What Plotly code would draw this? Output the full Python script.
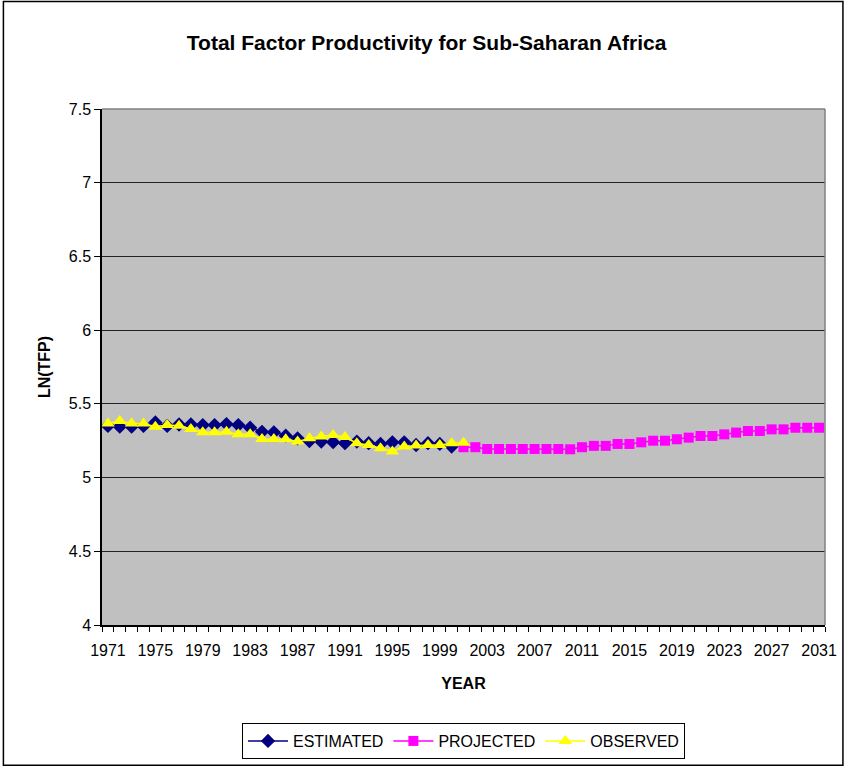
import plotly.graph_objects as go

# --- données ---
years_estimated = list(range(1971, 2001))
tfp_estimated = [5.350, 5.345, 5.345, 5.350, 5.374, 5.350, 5.360, 5.360, 5.356, 5.356,
                 5.363, 5.356, 5.338, 5.310, 5.307, 5.284, 5.266, 5.248, 5.244, 5.240,
                 5.233, 5.244, 5.233, 5.228, 5.239, 5.239, 5.221, 5.233, 5.228, 5.210]

years_projected = list(range(2001, 2032))
tfp_projected = [5.206, 5.206, 5.194, 5.194, 5.194, 5.194, 5.194, 5.194, 5.194, 5.192,
                 5.206, 5.215, 5.215, 5.228, 5.228, 5.239, 5.250, 5.250, 5.260, 5.271,
                 5.282, 5.282, 5.293, 5.305, 5.316, 5.316, 5.327, 5.327, 5.338, 5.338,
                 5.338]

years_observed = list(range(1971, 2002))
tfp_observed = [5.367, 5.383, 5.367, 5.367, 5.345, 5.356, 5.352, 5.330, 5.307, 5.307,
                5.310, 5.293, 5.293, 5.262, 5.262, 5.260, 5.244, 5.266, 5.278, 5.289,
                5.275, 5.233, 5.221, 5.199, 5.177, 5.210, 5.217, 5.221, 5.221, 5.233,
                5.237]

x_ticks = list(range(1971, 2032, 4))
y_ticks = [4, 4.5, 5, 5.5, 6, 6.5, 7, 7.5]
y_ticktext = ["4", "4.5", "5", "5.5", "6", "6.5", "7", "7.5"]

FONT = "Liberation Sans, Arial, sans-serif"

fig = go.Figure()
fig.add_trace(go.Scatter(
    x=years_estimated, y=tfp_estimated, name="ESTIMATED", mode="lines+markers",
    line=dict(color="#000080", width=1.5),
    marker=dict(symbol="diamond", size=11, color="#000080"),
))
fig.add_trace(go.Scatter(
    x=years_projected, y=tfp_projected, name="PROJECTED", mode="lines+markers",
    line=dict(color="#FF00FF", width=1.5),
    marker=dict(symbol="square", size=10, color="#FF00FF"),
))
fig.add_trace(go.Scatter(
    x=years_observed, y=tfp_observed, name="OBSERVED", mode="lines+markers",
    line=dict(color="#FFFF00", width=1.5),
    marker=dict(symbol="triangle-up", size=12, color="#FFFF00"),
))

fig.update_layout(
    width=849, height=771,
    margin=dict(l=102, r=21, t=109, b=143),
    paper_bgcolor="white", plot_bgcolor="#C0C0C0",
    font=dict(family=FONT, size=16, color="black"),
    title=dict(text="<b>Total Factor Productivity for Sub-Saharan Africa</b>",
               x=0.449, xref="paper", xanchor="center",
               y=1 - 43 / 771, yanchor="middle",
               font=dict(size=21, color="black")),
    showlegend=True,
    legend=dict(orientation="h", x=0.5, xanchor="center", y=-0.19, yanchor="top",
                bordercolor="black", borderwidth=1, bgcolor="white",
                font=dict(size=16), itemwidth=40, tracegroupgap=0),
)

fig.update_xaxes(
    range=[1970.5, 2031.5], tickmode="array", tickvals=x_ticks,
    ticks="", ticklabelstandoff=10, showgrid=False, zeroline=False,
    showline=True, linecolor="black", linewidth=1.5,
    minor=dict(tickmode="array", tickvals=[y + 0.5 for y in range(1970, 2032)],
               ticks="outside", ticklen=5, tickcolor="black", showgrid=False),
    title=dict(text="<b>YEAR</b>", font=dict(size=16), standoff=20),
)
fig.update_yaxes(
    range=[4, 7.5], tickmode="array", tickvals=y_ticks, ticktext=y_ticktext,
    ticks="outside", ticklen=6, tickcolor="black",
    showgrid=True, gridcolor="#222222", gridwidth=1, zeroline=False,
    showline=True, linecolor="black", linewidth=1.5,
    title=dict(text="<b>LN(TFP)</b>", font=dict(size=16), standoff=14),
)

# bords haut/droite gris de la zone de tracé
fig.add_shape(type="line", xref="paper", yref="paper", x0=0, x1=1, y0=1, y1=1,
              line=dict(color="#808080", width=1.5))
fig.add_shape(type="line", xref="paper", yref="paper", x0=1, x1=1, y0=0, y1=1,
              line=dict(color="#808080", width=1.5))
# cadre extérieur du graphique
fig.add_shape(type="rect", xref="paper", yref="paper",
              x0=(3 - 102) / 726, x1=(846 - 102) / 726,
              y0=(628 - 769) / 519, y1=(628 - 1) / 519,
              line=dict(color="black", width=1.5))

# pas de marge de page autour du graphique
fig.write_html("out.html", config={"displayModeBar": False},
               post_script="document.body.style.margin='0';")
